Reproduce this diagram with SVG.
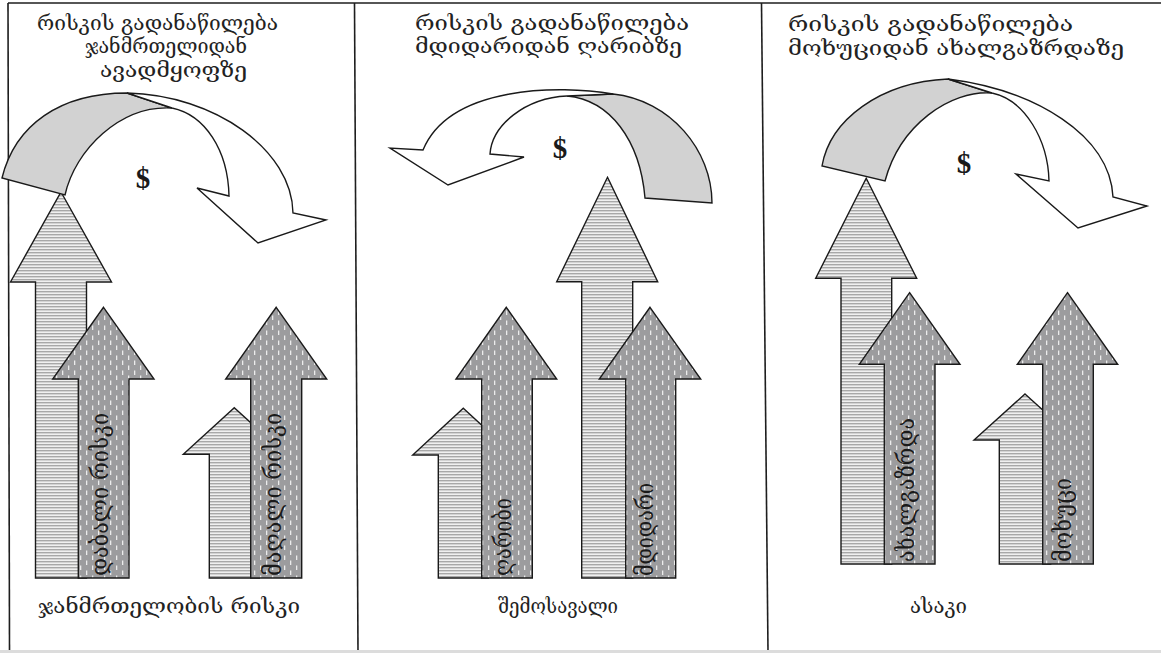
<svg xmlns="http://www.w3.org/2000/svg" width="1161" height="653" viewBox="0 0 1161 653">
  <style>
    .frame { stroke: #1e1e1e; stroke-width: 1.6; fill: none; }
    .ink { stroke: #1a1a1a; stroke-width: 1.4; stroke-linejoin: miter; }
    .light { fill: url(#hstripe); }
    .dark { fill: url(#dashes); }
    .band { fill: #d2d2d2; }
    .blank { fill: #ffffff; }
    .ttl { font-family: 'DejaVu Serif', 'DejaVu Sans', sans-serif; font-size: 21px; fill: #222; }
    .lbl { font-family: 'DejaVu Serif', 'DejaVu Sans', sans-serif; font-size: 24px; fill: #1a1a1a; }
    .cash { font-family: 'Liberation Serif', serif; font-weight: bold; font-size: 29px; fill: #1a1a1a; text-anchor: middle; }
  </style>
  <defs>
    <!-- fine horizontal hatching for the light arrows -->
    <pattern id="hstripe" width="6" height="3" patternUnits="userSpaceOnUse">
      <rect width="6" height="3" fill="#f0f0f0"/>
      <rect width="6" height="1.4" fill="#a8a8a8"/>
    </pattern>
    <!-- grey fill with small white dashes for the dark arrows -->
    <pattern id="dashes" width="12" height="10" patternUnits="userSpaceOnUse">
      <rect width="12" height="10" fill="#9c9c9e"/>
      <rect x="2" y="0.5" width="1.3" height="4.5" fill="#ececec"/>
      <rect x="8" y="5.5" width="1.3" height="4.5" fill="#ececec"/>
    </pattern>
  </defs>

  <rect width="1161" height="653" fill="#ffffff"/>

  <!-- frame and panel dividers -->
  <g id="frame">
    <line class="frame" x1="8" y1="3" x2="1161" y2="3"/>
    <line class="frame" x1="8" y1="3" x2="9.5" y2="651"/>
    <line class="frame" x1="354.5" y1="3" x2="358" y2="651"/>
    <line class="frame" x1="761.5" y1="3" x2="768" y2="651"/>
    <line x1="0" y1="651.5" x2="1161" y2="651.5" stroke="#dcdcdc" stroke-width="3"/>
  </g>

  <!-- ===== panel 1 : health risk ===== -->
  <g id="p1-title">
    <text class="ttl" x="37" y="29.5" textLength="241" lengthAdjust="spacingAndGlyphs">რისკის გადანაწილება</text>
    <text class="ttl" x="85" y="53" textLength="162" lengthAdjust="spacingAndGlyphs">ჯანმრთელიდან</text>
    <text class="ttl" x="100" y="77" textLength="147" lengthAdjust="spacingAndGlyphs">ავადმყოფზე</text>
  </g>
  <g id="p1-big">
    <polygon class="ink light" points="61,192 111.5,282 86.5,282 86.5,578 35.5,578 35.5,282 10.5,282"/>
  </g>
  <g id="p1-transfer">
    <path class="ink band" d="M2,178 C15,125 60,93 127,93 L172,108 C120,105 75,150 65,195 Z"/>
    <path class="ink blank" d="M127,93 C215,95 292,150 293,213 L326,220 L258,243 L197,188 L229,196 C228,150 205,115 172,108 Z"/>
    <text class="cash" x="143" y="188">$</text>
  </g>
  <g id="p1-small">
    <polygon class="ink light" points="234.3,407.7 285.3,454.3 259.3,454.3 259.3,578 209.3,578 209.3,454.3 183.3,454.3"/>
  </g>
  <g id="p1-low">
    <polygon class="ink dark" points="103.5,307.3 154,379 129,379 129,578 78.3,578 78.3,379 52.7,379"/>
    <text class="lbl" transform="translate(108,576) rotate(-90)" textLength="163" lengthAdjust="spacingAndGlyphs">დაბალი რისკი</text>
  </g>
  <g id="p1-high">
    <polygon class="ink dark" points="276.2,307.3 326.7,379 301.7,379 301.7,578 250.7,578 250.7,379 225.7,379"/>
    <text class="lbl" transform="translate(281,576) rotate(-90)" textLength="163" lengthAdjust="spacingAndGlyphs">მაღალი რისკი</text>
  </g>
  <g id="p1-caption">
    <text class="ttl" x="38" y="613" textLength="262" lengthAdjust="spacingAndGlyphs">ჯანმრთელობის რისკი</text>
  </g>

  <!-- ===== panel 2 : income ===== -->
  <g id="p2-title">
    <text class="ttl" x="415" y="29.5" textLength="274" lengthAdjust="spacingAndGlyphs">რისკის გადანაწილება</text>
    <text class="ttl" x="415" y="53" textLength="267" lengthAdjust="spacingAndGlyphs">მდიდარიდან ღარიბზე</text>
  </g>
  <g id="p2-transfer">
    <path class="ink band" d="M712,203 C712,150 670,100 613,94 L567,96 C610,100 640,140 645,198 Z"/>
    <path class="ink blank" d="M613,94 C560,85 450,85 423,150 L390,148 L448,185 L524,157 L490,154 C492,125 525,98 567,96 Z"/>
    <text class="cash" x="560" y="158">$</text>
  </g>
  <g id="p2-big">
    <polygon class="ink light" points="607.5,177.3 657.7,281.7 632.7,281.7 632.7,578 581.7,578 581.7,281.7 556.7,281.7"/>
  </g>
  <g id="p2-small">
    <polygon class="ink light" points="463.3,408.3 514,455 488.3,455 488.3,578 438.3,578 438.3,455 412.7,455"/>
  </g>
  <g id="p2-poor">
    <polygon class="ink dark" points="506.3,307.3 556.7,379 532.3,379 532.3,578 481.7,578 481.7,379 456,379"/>
    <text class="lbl" transform="translate(511,576) rotate(-90)" textLength="78" lengthAdjust="spacingAndGlyphs">ღარიბი</text>
  </g>
  <g id="p2-rich">
    <polygon class="ink dark" points="650,307.3 700.7,379 675.7,379 675.7,578 625.7,578 625.7,379 599.3,379"/>
    <text class="lbl" transform="translate(653,576) rotate(-90)" textLength="93" lengthAdjust="spacingAndGlyphs">მდიდარი</text>
  </g>
  <g id="p2-caption">
    <text class="ttl" x="498" y="613" textLength="120" lengthAdjust="spacingAndGlyphs">შემოსავალი</text>
  </g>

  <!-- ===== panel 3 : age ===== -->
  <g id="p3-title">
    <text class="ttl" x="788" y="31" textLength="285" lengthAdjust="spacingAndGlyphs">რისკის გადანაწილება</text>
    <text class="ttl" x="788" y="55" textLength="336" lengthAdjust="spacingAndGlyphs">მოხუციდან ახალგაზრდაზე</text>
  </g>
  <g id="p3-big">
    <polygon class="ink light" points="866.2,178.3 916.7,278.3 891.7,278.3 891.7,564 841,564 841,278.3 815.7,278.3"/>
  </g>
  <g id="p3-transfer">
    <path class="ink band" d="M822,166 C830,120 880,82 948,79 L992,93 C950,90 900,125 885,181 Z"/>
    <path class="ink blank" d="M948,79 C1035,90 1110,135 1113,197 L1147,206 L1078,228 L1016,174 L1049,181 C1048,140 1025,100 992,93 Z"/>
    <text class="cash" x="964" y="173">$</text>
  </g>
  <g id="p3-small">
    <polygon class="ink light" points="1025,394 1076,440 1050.7,440 1050.7,564 999.3,564 999.3,440 974,440"/>
  </g>
  <g id="p3-young">
    <polygon class="ink dark" points="909.6,292.7 960,364.3 935,364.3 935,564 884.3,564 884.3,364.3 859.3,364.3"/>
    <text class="lbl" transform="translate(914,562) rotate(-90)" textLength="144" lengthAdjust="spacingAndGlyphs">ახალგაზრდა</text>
  </g>
  <g id="p3-old">
    <polygon class="ink dark" points="1067.5,292.7 1117.7,364.3 1093.3,364.3 1093.3,564 1042.7,564 1042.7,364.3 1017.3,364.3"/>
    <text class="lbl" transform="translate(1071,562) rotate(-90)" textLength="84" lengthAdjust="spacingAndGlyphs">მოხუცი</text>
  </g>
  <g id="p3-caption">
    <text class="ttl" x="910" y="613" textLength="57" lengthAdjust="spacingAndGlyphs">ასაკი</text>
  </g>
</svg>
